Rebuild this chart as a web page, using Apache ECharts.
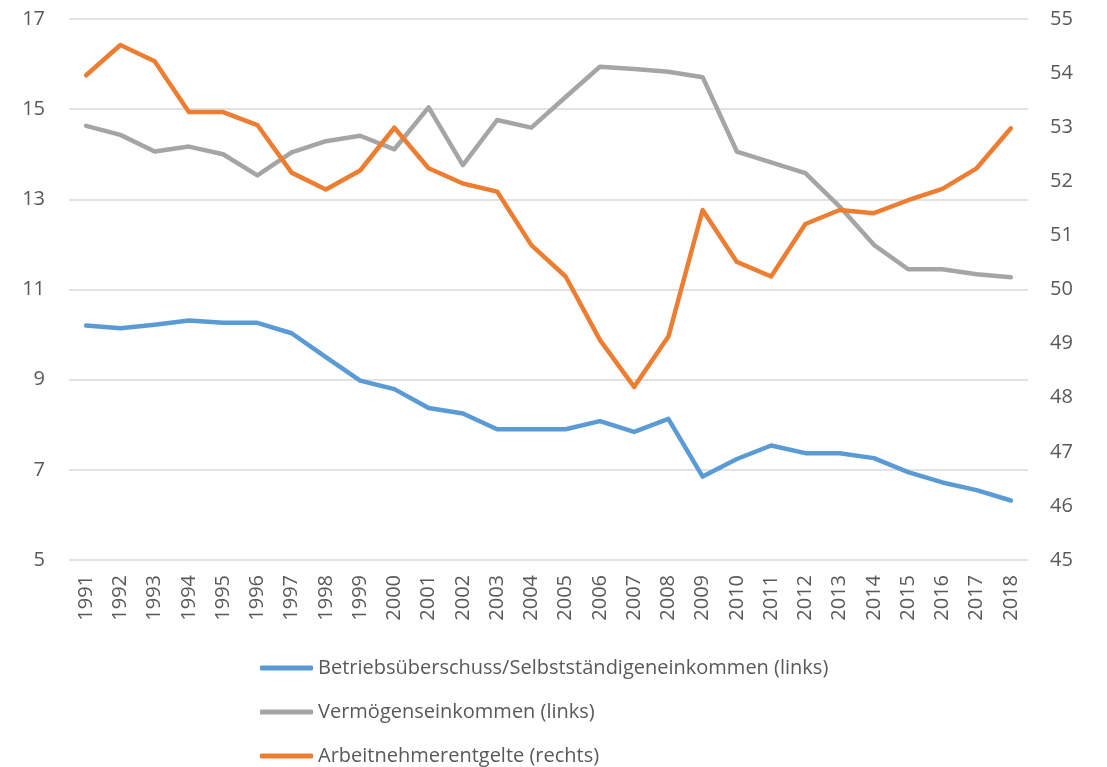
<!DOCTYPE html>
<html>
<head>
<meta charset="utf-8">
<title>Einkommensanteile</title>
<script src="https://cdn.jsdelivr.net/npm/echarts@6/dist/echarts.min.js"></script>
<style>
  html, body { margin: 0; padding: 0; background: #fff; }
  #chart { width: 1107px; height: 767px; }
</style>
</head>
<body>
<div id="chart"></div>
<script>
var years = ['1991', '1992', '1993', '1994', '1995', '1996', '1997', '1998', '1999', '2000',
  '2001', '2002', '2003', '2004', '2005', '2006', '2007', '2008', '2009', '2010',
  '2011', '2012', '2013', '2014', '2015', '2016', '2017', '2018'];

// linke Achse
var betriebsueberschuss = [10.20, 10.14, 10.22, 10.31, 10.26, 10.26, 10.03, 9.50, 8.98, 8.79,
  8.37, 8.25, 7.90, 7.90, 7.90, 8.08, 7.84, 8.13, 6.85, 7.24,
  7.54, 7.37, 7.37, 7.26, 6.95, 6.72, 6.55, 6.32];
var vermoegenseinkommen = [14.63, 14.43, 14.06, 14.17, 14.00, 13.53, 14.04, 14.29, 14.41, 14.11,
  15.04, 13.76, 14.76, 14.59, 15.27, 15.94, 15.89, 15.83, 15.71, 14.06,
  13.82, 13.58, 12.84, 11.99, 11.45, 11.45, 11.34, 11.27];
// rechte Achse
var arbeitnehmerentgelte = [53.96, 54.52, 54.22, 53.28, 53.28, 53.04, 52.16, 51.85, 52.20, 52.99,
  52.24, 51.96, 51.81, 50.82, 50.24, 49.07, 48.20, 49.13, 51.47, 50.51,
  50.24, 51.21, 51.47, 51.41, 51.65, 51.86, 52.24, 52.98];

var seriesNames = [
  'Betriebsüberschuss/Selbstständigeneinkommen (links)',
  'Vermögenseinkommen (links)',
  'Arbeitnehmerentgelte (rechts)'
];

var labelColor = '#595959';
var fontFamily = '"Open Sans", "Noto Sans", sans-serif';

var chart = echarts.init(document.getElementById('chart'));

function lineSeries(name, data, color, axisIndex) {
  return {
    name: name,
    type: 'line',
    yAxisIndex: axisIndex,
    data: data,
    symbol: 'none',
    smooth: false,
    color: color,
    lineStyle: { width: 4.5, color: color, cap: 'round', join: 'round' },
    emphasis: { disabled: true }
  };
}

var option = {
  animation: false,
  textStyle: { fontFamily: fontFamily },
  grid: {
    left: 69,
    right: 79,
    top: 19,
    bottom: 207,
    containLabel: false
  },
  legend: {
    orient: 'vertical',
    left: 255,
    top: 653,
    height: 140,
    icon: 'roundRect',
    itemWidth: 53,
    itemHeight: 5,
    itemGap: 24,
    textStyle: { fontSize: 20, color: labelColor, fontFamily: fontFamily },
    data: seriesNames
  },
  xAxis: {
    type: 'category',
    data: years,
    boundaryGap: true,
    axisLine: { show: false },
    axisTick: { show: false },
    axisLabel: {
      rotate: 90,
      interval: 0,
      margin: 15,
      fontSize: 20,
      color: labelColor,
      fontFamily: fontFamily
    }
  },
  yAxis: [
    {
      type: 'value',
      min: 5,
      max: 17,
      interval: 2,
      axisLine: { show: false },
      axisTick: { show: false },
      axisLabel: { fontSize: 20, color: labelColor, margin: 24, fontFamily: fontFamily },
      splitLine: { lineStyle: { color: '#d9d9d9', width: 1.5 } }
    },
    {
      type: 'value',
      min: 45,
      max: 55,
      interval: 1,
      axisLine: { show: false },
      axisTick: { show: false },
      axisLabel: { fontSize: 20, color: labelColor, margin: 22, fontFamily: fontFamily },
      splitLine: { show: false }
    }
  ],
  series: [
    lineSeries(seriesNames[0], betriebsueberschuss, '#5B9BD5', 0),
    lineSeries(seriesNames[1], vermoegenseinkommen, '#A5A5A5', 0),
    lineSeries(seriesNames[2], arbeitnehmerentgelte, '#ED7D31', 1)
  ]
};

chart.setOption(option);
</script>
</body>
</html>
